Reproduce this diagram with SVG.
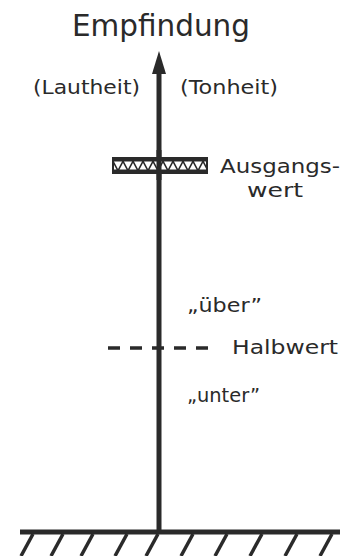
<svg xmlns="http://www.w3.org/2000/svg" width="345" height="556" viewBox="0 0 345 556">
  <style>
    .t { font-family: "DejaVu Sans", "Liberation Sans", sans-serif; fill: #2a2a2a; }
    .ln { stroke: #2a2a2a; fill: none; }
  </style>
  <defs>
    <pattern id="hatch" x="113" y="158" width="10" height="15" patternUnits="userSpaceOnUse">
      <rect width="10" height="15" fill="#2a2a2a"/>
      <polygon points="1,3.5 9,3.5 5,11" fill="#fff"/>
      <polygon points="6.5,11.5 10,5 10,11.5" fill="#fff"/>
      <polygon points="0,5 3.5,11.5 0,11.5" fill="#fff"/>
    </pattern>
  </defs>
  <rect width="345" height="556" fill="#fff"/>

  <g id="title">
    <text class="t" x="161" y="36" font-size="30" text-anchor="middle" textLength="178" lengthAdjust="spacingAndGlyphs">Empfindung</text>
  </g>

  <g id="labels-top">
    <text class="t" x="33" y="94" font-size="19" textLength="107" lengthAdjust="spacingAndGlyphs">(Lautheit)</text>
    <text class="t" x="180" y="94" font-size="19" textLength="98" lengthAdjust="spacingAndGlyphs">(Tonheit)</text>
  </g>

  <g id="connectors">
    <line class="ln" x1="159" y1="70" x2="159" y2="532" stroke-width="5"/>
    <polygon points="159,51 166,74 152,74" fill="#2a2a2a"/>
    <line class="ln" x1="108" y1="348" x2="218" y2="348" stroke-width="3.5" stroke-dasharray="12,10"/>
  </g>

  <g id="ausgangswert">
    <rect x="113" y="158" width="94" height="15" fill="url(#hatch)" stroke="#2a2a2a" stroke-width="2"/>
    <line class="ln" x1="159" y1="150" x2="159" y2="180" stroke-width="5"/>
    <text class="t" x="220" y="173" font-size="20" textLength="120" lengthAdjust="spacingAndGlyphs">Ausgangs-</text>
    <text class="t" x="247" y="197" font-size="20" textLength="56" lengthAdjust="spacingAndGlyphs">wert</text>
  </g>

  <g id="ueber">
    <text class="t" x="187" y="312" font-size="20" textLength="75" lengthAdjust="spacingAndGlyphs">„über”</text>
  </g>

  <g id="halbwert">
    <text class="t" x="232" y="354" font-size="20" textLength="106" lengthAdjust="spacingAndGlyphs">Halbwert</text>
  </g>

  <g id="unter">
    <text class="t" x="187" y="402" font-size="20" textLength="73" lengthAdjust="spacingAndGlyphs">„unter”</text>
  </g>

  <g id="ground">
    <line class="ln" x1="20" y1="532" x2="340" y2="532" stroke-width="5"/>
    <g class="ln" stroke-width="3.5">
      <line x1="33" y1="534" x2="21" y2="556"/>
      <line x1="63" y1="534" x2="51" y2="556"/>
      <line x1="93" y1="534" x2="81" y2="556"/>
      <line x1="127" y1="534" x2="115" y2="556"/>
      <line x1="158" y1="534" x2="146" y2="556"/>
      <line x1="193" y1="534" x2="181" y2="556"/>
      <line x1="227" y1="534" x2="215" y2="556"/>
      <line x1="262" y1="534" x2="250" y2="556"/>
      <line x1="297" y1="534" x2="285" y2="556"/>
      <line x1="332" y1="534" x2="320" y2="556"/>
    </g>
  </g>
</svg>
